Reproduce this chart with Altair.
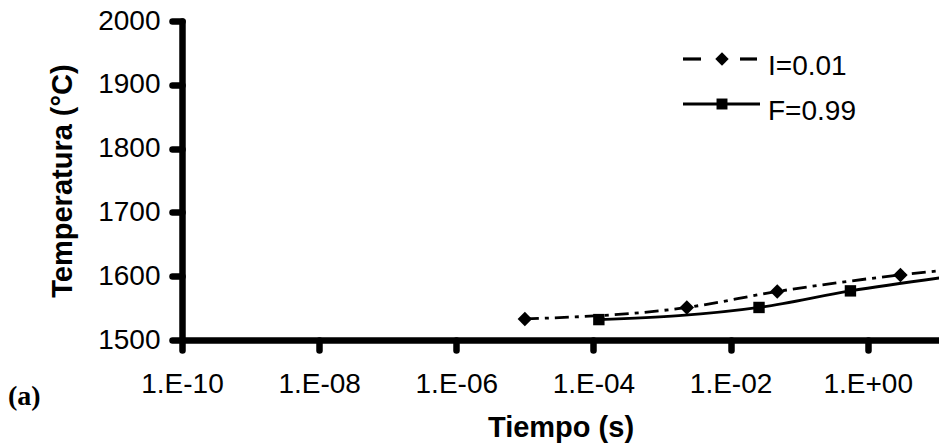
import math

import altair as alt
import pandas as pd

# Series "I=0.01": diamonds joined by a dash-dot line
time_i = [1.0e-5, 2.3e-3, 4.8e-2, 3.0, 30.0]
temp_i = [1533, 1551, 1576, 1602, 1613]

# Series "F=0.99": squares joined by a solid line
time_f = [1.2e-4, 2.6e-2, 0.56, 20.0]
temp_f = [1532, 1551, 1577, 1601]

series_names = ["I=0.01", "F=0.99"]

x_ticks = [1e-10, 1e-8, 1e-6, 1e-4, 1e-2, 1e0]
x_tick_labels = ["1.E-10", "1.E-08", "1.E-06", "1.E-04", "1.E-02", "1.E+00"]
y_ticks = [1500, 1600, 1700, 1800, 1900, 2000]

FONT = "Liberation Sans"

df_i = pd.DataFrame({"t": time_i, "T": temp_i, "serie": series_names[0]})
df_f = pd.DataFrame({"t": time_f, "T": temp_f, "serie": series_names[1]})

# "1.E-10"-style labels looked up from the tick exponent
first_exp = round(math.log10(x_ticks[0]))
step = round(math.log10(x_ticks[1]) - math.log10(x_ticks[0]))
label_list = "[" + ",".join(repr(s) for s in x_tick_labels) + "]"
x_label_expr = f"{label_list}[round((log(datum.value)/LN10 - ({first_exp}))/{step})]"

AXIS_W = 6.5
LINE_W = 2.8

x_enc = alt.X(
    "t:Q",
    scale=alt.Scale(type="log", domain=[1e-10, 10.96], nice=False),
    axis=alt.Axis(
        values=x_ticks,
        labelExpr=x_label_expr,
        title="Tiempo (s)",
        labelPadding=20,
        titleY=96,
        titleBaseline="alphabetic",
        domainWidth=AXIS_W,
        tickWidth=AXIS_W,
    ),
)
y_enc = alt.Y(
    "T:Q",
    scale=alt.Scale(domain=[1500, 2000], nice=False, zero=False),
    axis=alt.Axis(
        values=y_ticks,
        format="d",
        title="Temperatura (°C)",
        labelPadding=12,
        titleAngle=270,
        titleX=-111,
        titleY=159.5,
        titleAlign="center",
        titleBaseline="alphabetic",
        domainWidth=AXIS_W,
        tickWidth=AXIS_W,
    ),
)

DASH_DOT = [14, 6, 4, 6]

line_i = alt.Chart(df_i).mark_line(
    color="black", strokeWidth=LINE_W, strokeDash=DASH_DOT, interpolate="monotone", clip=True
).encode(x=x_enc, y=y_enc)
pts_i = alt.Chart(df_i).mark_point(
    shape="diamond", filled=True, color="black", size=210, opacity=1, clip=True
).encode(x=x_enc, y=y_enc)

line_f = alt.Chart(df_f).mark_line(
    color="black", strokeWidth=LINE_W, interpolate="monotone", clip=True
).encode(x=x_enc, y=y_enc)
pts_f = alt.Chart(df_f).mark_point(
    shape="square", filled=True, color="black", size=130, opacity=1, clip=True
).encode(x=x_enc, y=y_enc)

# Legend (top right, inside the plot)
leg_df_i = pd.DataFrame({"label": [series_names[0]]})
leg_df_f = pd.DataFrame({"label": [series_names[1]]})

leg_i_left = alt.Chart(leg_df_i).mark_rule(color="black", strokeWidth=3.2).encode(
    x=alt.value(501), x2=alt.value(519), y=alt.value(38)
)
leg_i_right = alt.Chart(leg_df_i).mark_rule(color="black", strokeWidth=3.2).encode(
    x=alt.value(558), x2=alt.value(575), y=alt.value(38)
)
leg_i_pt = alt.Chart(leg_df_i).mark_point(
    shape="diamond", filled=True, color="black", size=180, opacity=1
).encode(x=alt.value(540), y=alt.value(38))
leg_i_txt = alt.Chart(leg_df_i).mark_text(
    align="left", baseline="alphabetic", font=FONT, fontSize=28, color="black"
).encode(x=alt.value(586), y=alt.value(54), text="label:N")

leg_f_line = alt.Chart(leg_df_f).mark_rule(color="black", strokeWidth=LINE_W).encode(
    x=alt.value(501), x2=alt.value(578), y=alt.value(83)
)
leg_f_pt = alt.Chart(leg_df_f).mark_point(
    shape="square", filled=True, color="black", size=120, opacity=1
).encode(x=alt.value(540), y=alt.value(83))
leg_f_txt = alt.Chart(leg_df_f).mark_text(
    align="left", baseline="alphabetic", font=FONT, fontSize=28, color="black"
).encode(x=alt.value(586), y=alt.value(99), text="label:N")

# Panel tag at the lower left
tag = alt.Chart(pd.DataFrame({"tag": ["(a)"]})).mark_text(
    align="left", baseline="alphabetic", font="Liberation Serif",
    fontSize=28, fontWeight="bold", color="black"
).encode(x=alt.value(-174), y=alt.value(384), text="tag:N")

chart = alt.layer(
    line_i, line_f, pts_i, pts_f,
    leg_i_left, leg_i_right, leg_i_pt, leg_i_txt,
    leg_f_line, leg_f_pt, leg_f_txt,
    tag,
).properties(
    width=757,
    height=319,
    autosize=alt.AutoSizeParams(type="none"),
    padding={"left": 182, "top": 21, "right": 0, "bottom": 106},
).configure_view(
    stroke=None
).configure_axis(
    grid=False,
    domainColor="black",
    domainCap="round",
    tickColor="black",
    tickSize=10,
    tickCap="round",
    labelFont=FONT,
    labelFontSize=28,
    labelColor="black",
    labelOverlap=False,
    labelFlush=False,
    titleFont=FONT,
    titleFontSize=29,
    titleFontWeight="bold",
    titleColor="black",
)

chart.save("out.html", embed_options={"renderer": "svg", "actions": False})
